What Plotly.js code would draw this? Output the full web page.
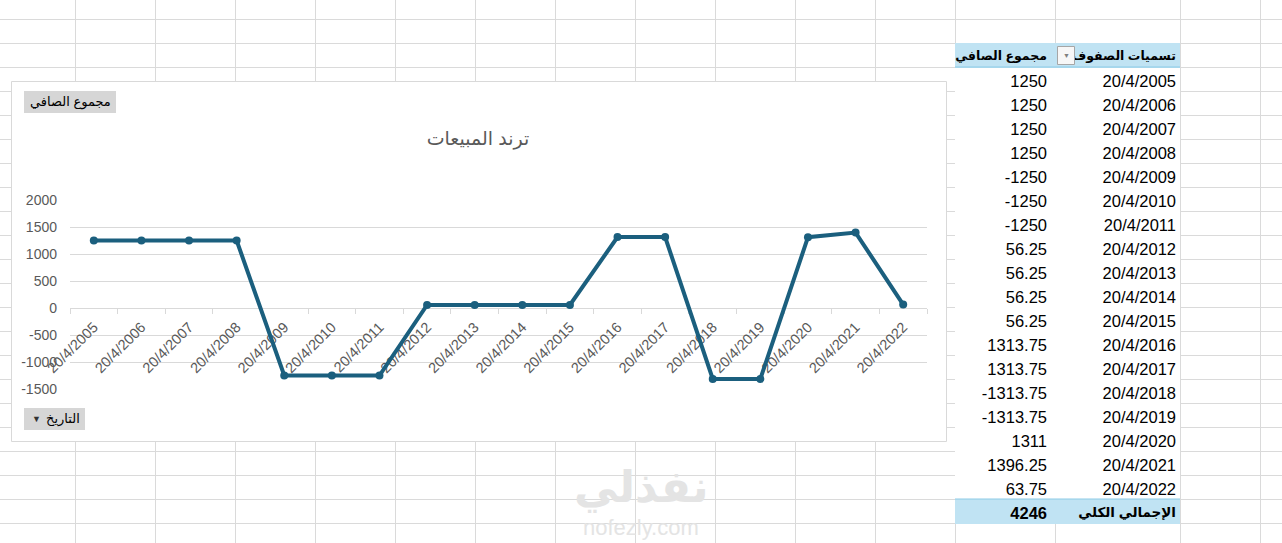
<!DOCTYPE html>
<html>
<head>
<meta charset="utf-8">
<script src="https://cdn.plot.ly/plotly-3.0.1.min.js"></script>
<style>
  html, body { margin: 0; padding: 0; background: #fff; }
  #sheet { width: 1282px; height: 543px; }
</style>
</head>
<body>
<div id="sheet"></div>
<script>
const W = 1282, H = 543;

// pivot table data
const dates = ['20/4/2005', '20/4/2006', '20/4/2007', '20/4/2008', '20/4/2009', '20/4/2010',
               '20/4/2011', '20/4/2012', '20/4/2013', '20/4/2014', '20/4/2015', '20/4/2016',
               '20/4/2017', '20/4/2018', '20/4/2019', '20/4/2020', '20/4/2021', '20/4/2022'];
const net = [1250, 1250, 1250, 1250, -1250, -1250, -1250, 56.25, 56.25, 56.25, 56.25,
             1313.75, 1313.75, -1313.75, -1313.75, 1311, 1396.25, 63.75];

const chartTitle = 'ترند المبيعات';
const valueHeader = 'مجموع الصافي';
const rowHeader = 'تسميات الصفوف';
const totalLabel = 'الإجمالي الكلي';
const dateButton = 'التاريخ';

const yTicks = [-1500, -1000, -500, 0, 500, 1000, 1500, 2000];
const yTickText = ['-1500', '-1000', '-500', '0', '500', '1000', '1500', '2000'];

// colours
const LINE_BLUE = '#1b5f7e';
const GRID = '#dadada';
const AXIS_GREY = '#d9d9d9';
const TEXT_GREY = '#595959';
const PIVOT_BLUE = '#c0e3f3';
const FONT = 'Liberation Sans, Arial, DejaVu Sans, sans-serif';

// pixel -> paper coords (margins are 0)
function px(x) { return x / W; }
function py(y) { return 1 - y / H; }
// table cells wrap (and grow) on spaces, keep the Arabic labels on one line
function noWrap(s) { return s.replace(/ /g, '\u00a0'); }

let shapes = [];

// sheet grid
let colEdges = [];
for (let x = 75; x <= 955; x += 80) colEdges.push(x);
colEdges.push(1055, 1180, 1260);
colEdges.forEach(function (x) {
    shapes.push({type: 'line', xref: 'paper', yref: 'paper', layer: 'below',
        x0: px(x + 0.5), x1: px(x + 0.5), y0: 0, y1: 1, line: {color: GRID, width: 1}});
});
for (let y = 19; y <= H; y += 24) {
    shapes.push({type: 'line', xref: 'paper', yref: 'paper', layer: 'below',
        x0: 0, x1: 1, y0: py(y + 0.5), y1: py(y + 0.5), line: {color: GRID, width: 1}});
}

// chart box
shapes.push({type: 'rect', xref: 'paper', yref: 'paper', layer: 'below',
    x0: px(11.5), x1: px(946.5), y0: py(441.5), y1: py(81.5),
    fillcolor: '#ffffff', line: {color: AXIS_GREY, width: 1}});

// field buttons
shapes.push({type: 'rect', xref: 'paper', yref: 'paper', layer: 'below',
    x0: px(24), x1: px(116), y0: py(113), y1: py(91), fillcolor: '#d6d6d6', line: {width: 0}});
shapes.push({type: 'rect', xref: 'paper', yref: 'paper', layer: 'below',
    x0: px(24), x1: px(85), y0: py(430), y1: py(408), fillcolor: '#d6d6d6', line: {width: 0}});

// the table runs 4px past column edge 1180 (text padding), mask that strip
shapes.push({type: 'rect', xref: 'paper', yref: 'paper', layer: 'above',
    x0: px(1180.5), x1: px(1185), y0: py(524), y1: py(43),
    fillcolor: '#ffffff', line: {width: 0}});
for (let y = 43; y <= 523; y += 24) {
    shapes.push({type: 'line', xref: 'paper', yref: 'paper', layer: 'above',
        x0: px(1180.5), x1: px(1186), y0: py(y + 0.5), y1: py(y + 0.5), line: {color: GRID, width: 1}});
}
shapes.push({type: 'line', xref: 'paper', yref: 'paper', layer: 'above',
    x0: px(1180.5), x1: px(1180.5), y0: py(524), y1: py(43), line: {color: GRID, width: 1}});

// pivot borders and header dropdown
shapes.push({type: 'line', xref: 'paper', yref: 'paper', layer: 'above',
    x0: px(955), x1: px(1180), y0: py(67), y1: py(67), line: {color: '#8ccbe6', width: 1}});
shapes.push({type: 'line', xref: 'paper', yref: 'paper', layer: 'above',
    x0: px(955), x1: px(1180), y0: py(499), y1: py(499), line: {color: '#8ccbe6', width: 1}});
shapes.push({type: 'rect', xref: 'paper', yref: 'paper', layer: 'above',
    x0: px(1057.5), x1: px(1074.5), y0: py(64.5), y1: py(46.5),
    fillcolor: '#f7f7f7', line: {color: '#a6a6a6', width: 1}});

let annotations = [
    {xref: 'paper', yref: 'paper', x: px(70), y: py(102), text: valueHeader, showarrow: false,
        xanchor: 'center', yanchor: 'middle', font: {size: 13, color: '#000000'}},
    {xref: 'paper', yref: 'paper', x: px(82), y: py(419), text: dateButton, showarrow: false,
        xanchor: 'right', yanchor: 'middle', font: {size: 13, color: '#000000'}},
    {xref: 'paper', yref: 'paper', x: px(36), y: py(419), text: '▼', showarrow: false,
        xanchor: 'center', yanchor: 'middle', font: {size: 9, color: '#333333'}},
    {xref: 'paper', yref: 'paper', x: px(1066), y: py(55.5), text: '▼', showarrow: false,
        xanchor: 'center', yanchor: 'middle', font: {size: 7, color: '#7f7f7f'}},
    // watermark
    {xref: 'paper', yref: 'paper', x: px(641), y: py(487), text: '<b>نفذلي</b>', showarrow: false,
        xanchor: 'center', yanchor: 'middle', font: {size: 44, color: '#e4e4e4'}},
    {xref: 'paper', yref: 'paper', x: px(641), y: py(527), text: 'nofezly.com', showarrow: false,
        xanchor: 'center', yanchor: 'middle', font: {size: 22, color: '#e4e4e4'}}
];

// table columns (left to right on screen)
let total = net.reduce(function (a, b) { return a + b; }, 0);
let valueCol = net.map(function (v) { return String(v); });
valueCol.push(String(total));
let labelCol = dates.slice();
labelCol.push(noWrap(totalLabel));
let rowFill = dates.map(function () { return '#ffffff'; });
rowFill.push(PIVOT_BLUE);
let rowWeight = dates.map(function () { return 'normal'; });
rowWeight.push('bold');
let valueSize = dates.map(function () { return 16.5; });
valueSize.push(16.5);
let labelSize = dates.map(function () { return 16.5; });
labelSize.push(13.5);

let lineTrace = {
    type: 'scatter',
    x: dates,
    y: net,
    mode: 'lines+markers',
    line: {color: LINE_BLUE, width: 4},
    marker: {color: LINE_BLUE, size: 8},
    cliponaxis: false,
    hoverinfo: 'skip'
};

let pivotTable = {
    type: 'table',
    domain: {x: [px(955), px(1184)], y: [py(524), py(43)]},
    columnwidth: [100, 129],
    header: {
        values: [[noWrap(valueHeader)], [noWrap(rowHeader)]],
        align: 'right',
        height: 24,
        fill: {color: PIVOT_BLUE},
        line: {color: PIVOT_BLUE, width: 1},
        font: {family: FONT, size: 12.5, color: '#000000', weight: 'bold'}
    },
    cells: {
        values: [valueCol, labelCol],
        align: 'right',
        height: 24,
        fill: {color: [rowFill, rowFill]},
        line: {color: [rowFill, rowFill], width: 1},
        font: {family: FONT, size: [valueSize, labelSize], color: '#000000',
               weight: [rowWeight, rowWeight]}
    }
};

let layout = {
    width: W,
    height: H,
    margin: {l: 0, r: 0, t: 0, b: 0},
    paper_bgcolor: '#ffffff',
    plot_bgcolor: 'rgba(0,0,0,0)',
    showlegend: false,
    font: {family: FONT, color: TEXT_GREY},
    title: {
        text: chartTitle,
        xref: 'paper', yref: 'paper',
        x: px(478), y: py(138),
        xanchor: 'center', yanchor: 'middle',
        font: {size: 19, color: TEXT_GREY}
    },
    xaxis: {
        type: 'category',
        domain: [px(70), px(927)],
        anchor: 'free',
        position: py(308),
        range: [-0.5, dates.length - 0.5],
        layer: 'below traces',
        showgrid: false,
        showline: true,
        linecolor: AXIS_GREY,
        ticks: 'outside',
        ticklen: 5,
        tickcolor: AXIS_GREY,
        tickson: 'boundaries',
        tickangle: -45,
        ticklabelstandoff: 4,
        tickfont: {size: 14.5, color: TEXT_GREY},
        fixedrange: true
    },
    yaxis: {
        domain: [py(389), py(200)],
        range: [-1500, 2000],
        tickvals: yTicks,
        ticktext: yTickText,
        layer: 'below traces',
        showgrid: true,
        gridcolor: AXIS_GREY,
        zeroline: false,
        showline: false,
        ticks: '',
        ticklabelstandoff: 12,
        tickfont: {size: 14, color: TEXT_GREY},
        fixedrange: true
    },
    shapes: shapes,
    annotations: annotations
};

Plotly.newPlot('sheet', [lineTrace, pivotTable], layout, {displayModeBar: false, staticPlot: true});
</script>
</body>
</html>
